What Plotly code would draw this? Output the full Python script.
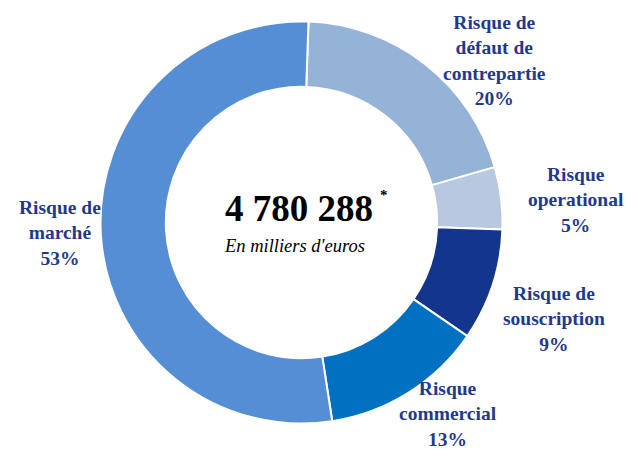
import plotly.graph_objects as go

categories = ["Risque de défaut de contrepartie", "Risque operational", "Risque de souscription",
              "Risque commercial", "Risque de marché"]
values = [20, 5, 9, 13, 53]
colors = ["#95B3D7", "#B9C8E1", "#14358C", "#0070C0", "#558ED5"]
label_lines = [["Risque de", "défaut de", "contrepartie"], ["Risque", "operational"],
               ["Risque de", "souscription"], ["Risque", "commercial"], ["Risque de", "marché"]]
total_text = "4 780 288"
unit_text = "En milliers d'euros"

# page body has an 8px margin; work in window pixels and shift
OFF = 8
W, H = 632 - OFF, 449 - OFF
cx, cy, R = 301.5 - OFF, 222.5 - OFF, 201


def px(x):
    return (x - OFF) / W


def py(y):
    return 1 - (y - OFF) / H


fig = go.Figure(go.Pie(
    labels=categories, values=values, hole=0.675, sort=False, direction="clockwise",
    rotation=2, textinfo="none", hoverinfo="label+percent",
    marker=dict(colors=colors, line=dict(color="white", width=2)),
    domain=dict(x=[(cx - R) / W, (cx + R) / W], y=[(H - cy - R) / H, (H - cy + R) / H]),
    showlegend=False,
))

navy = "#1F3A8A"
label_pos = [(494, 60), (576, 200), (554, 319), (448, 414), (60, 233)]
for lines, v, (x, y) in zip(label_lines, values, label_pos):
    txt = "<b>" + "<br>".join(lines + [f"{v}%"]) + "</b>"
    fig.add_annotation(x=px(x), y=py(y), xref="paper", yref="paper", text=txt,
                       showarrow=False, xanchor="center", yanchor="middle", align="center",
                       font=dict(family="Liberation Serif", size=19.5, color=navy))

fig.add_annotation(x=px(299), y=py(208), xref="paper", yref="paper",
                   text=f"<b>{total_text}</b>", showarrow=False,
                   font=dict(family="Liberation Serif", size=37, color="black"))
fig.add_annotation(x=px(384), y=py(195), xref="paper", yref="paper",
                   text="<b>*</b>", showarrow=False,
                   font=dict(family="Liberation Serif", size=15, color="black"))
fig.add_annotation(x=px(294), y=py(246), xref="paper", yref="paper",
                   text=f"<i>{unit_text}</i>", showarrow=False,
                   font=dict(family="Liberation Serif", size=18.5, color="black"))

fig.update_layout(width=W, height=H, margin=dict(l=0, r=0, t=0, b=0),
                  paper_bgcolor="white", plot_bgcolor="white",
                  font=dict(family="Liberation Serif"))
fig.write_html("out.html")
